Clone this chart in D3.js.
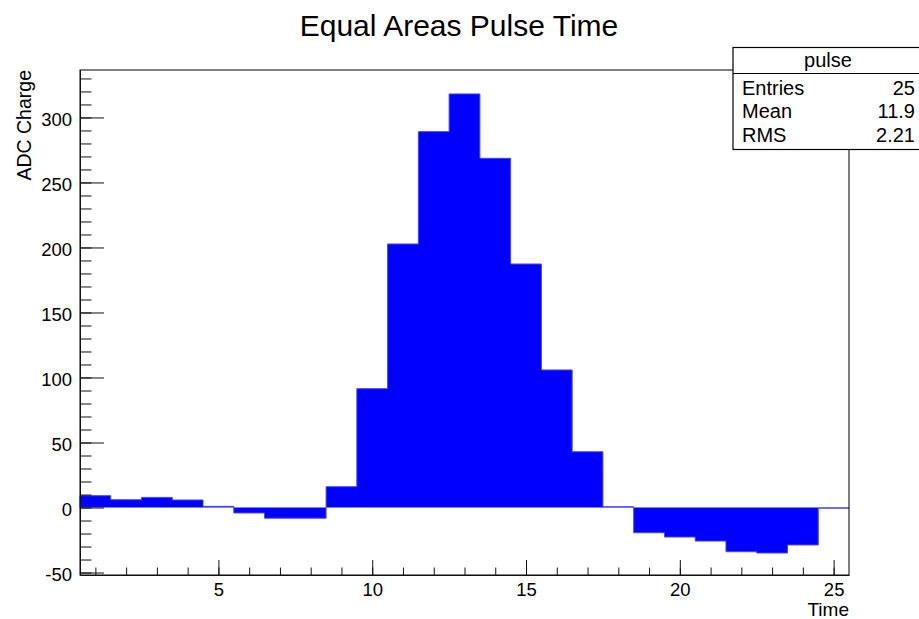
<!DOCTYPE html>
<html>
<head>
<meta charset="utf-8">
<script src="https://cdn.jsdelivr.net/npm/d3@7"></script>
<style>
  body { margin: 0; background: #fff; }
  text { font-family: "Liberation Sans", Arial, Helvetica, sans-serif; fill: #000; }
</style>
</head>
<body>
<svg id="chart" width="919" height="619"></svg>
<script>
// bin centres (Time) and bin contents (ADC Charge)
var times = [1, 2, 3, 4, 5, 6, 7, 8, 9, 10, 11, 12, 13, 14, 15, 16, 17, 18, 19, 20, 21, 22, 23, 24, 25];
var charge = [9.1, 6.0, 7.8, 5.8, 0.9, -4.2, -8.2, -8.2, 16.0, 91.4, 202.7, 289.1, 318.1,
              268.6, 187.3, 105.8, 42.9, 0.6, -19.4, -22.7, -25.8, -34.0, -35.0, -28.8, -0.5];
var yMajor = [-50, 0, 50, 100, 150, 200, 250, 300];
var xMajor = [5, 10, 15, 20, 25];
var statNames = ["Entries", "Mean", "RMS"];
var statValues = ["25", "11.9", "2.21"];

var svg = d3.select('#chart');
// frame edges (note: "top" is reserved on window, so use frame* names)
var frameL = 80, frameR = 849, frameT = 70, frameB = 575;

var x = d3.scaleLinear().domain([0.5, 25.5]).range([frameL, frameR]);
var y = d3.scaleLinear().domain([-51.9, 336.5]).range([frameB, frameT]);

// step points of the histogram
var pts = [[x(times[0] - 0.5), y(0)]];
charge.forEach(function (d, i) {
    pts.push([x(times[i] - 0.5), y(d)]);
    pts.push([x(times[i] + 0.5), y(d)]);
});
pts.push([x(times[times.length - 1] + 0.5), y(0)]);

// fill as one shape so no seams show between bins
svg.append('path')
    .attr('d', d3.area()
        .x(function (p) { return p[0]; })
        .y0(y(0))
        .y1(function (p) { return p[1]; })(pts))
    .style('fill', '#0000ff');

// outline
svg.append('path')
    .attr('d', d3.line()(pts))
    .style('fill', 'none')
    .style('stroke', '#4a4ae0')
    .style('stroke-width', 1);

// frame
svg.append('rect')
    .attr('x', frameL).attr('y', frameT)
    .attr('width', frameR - frameL).attr('height', frameB - frameT)
    .style('fill', 'none').style('stroke', '#000').style('stroke-width', 1);

var plain = function (d) { return String(d); }; // keep ascii hyphen for -50

// y axis: minor + major ticks pointing inwards
var yMinor = [];
for (var v = -50; v <= 330; v += 10) yMinor.push(v);
svg.append('g')
    .attr('transform', 'translate(' + frameL + ',0)')
    .call(d3.axisLeft(y).tickValues(yMinor).tickSize(-11.5).tickSizeOuter(0).tickFormat(''))
    .call(function (g) { g.select('.domain').remove(); });
var yAxis = svg.append('g')
    .attr('transform', 'translate(' + frameL + ',0)')
    .call(d3.axisLeft(y).tickValues(yMajor).tickSize(-24).tickSizeOuter(0).tickPadding(8).tickFormat(plain));
yAxis.selectAll('text').attr('dy', '0.45em').style('font-size', '18.5px');

// x axis
svg.append('g')
    .attr('transform', 'translate(0,' + frameB + ')')
    .call(d3.axisBottom(x).tickValues(times).tickSize(-7.5).tickSizeOuter(0).tickFormat(''))
    .call(function (g) { g.select('.domain').remove(); });
var xAxis = svg.append('g')
    .attr('transform', 'translate(0,' + frameB + ')')
    .call(d3.axisBottom(x).tickValues(xMajor).tickSize(-15).tickSizeOuter(0).tickPadding(8).tickFormat(plain));
xAxis.selectAll('text').style('font-size', '18.5px');

svg.selectAll('.tick line').style('stroke', '#111');
svg.selectAll('.domain').style('stroke', '#111');

// axis titles
svg.append('text')
    .attr('x', frameR).attr('y', 615.5)
    .attr('text-anchor', 'end')
    .style('font-size', '19px')
    .text('Time');
svg.append('text')
    .attr('transform', 'translate(31,' + frameT + ') rotate(-90)')
    .attr('text-anchor', 'end')
    .style('font-size', '19.5px')
    .text('ADC Charge');

// title
svg.append('text')
    .attr('x', 459).attr('y', 36)
    .attr('text-anchor', 'middle')
    .style('font-size', '30px')
    .text('Equal Areas Pulse Time');

// stats box
var box = svg.append('g');
box.append('rect')
    .attr('x', 733).attr('y', 47.5)
    .attr('width', 200).attr('height', 102)
    .style('fill', '#fff').style('stroke', '#000').style('stroke-width', 1.2);
box.append('line')
    .attr('x1', 733).attr('x2', 933).attr('y1', 73.5).attr('y2', 73.5)
    .style('stroke', '#000').style('stroke-width', 1.2);
box.append('text')
    .attr('x', 828).attr('y', 66.5)
    .attr('text-anchor', 'middle')
    .style('font-size', '20px')
    .text('pulse');
var rowY = [95, 117.5, 142];
statNames.forEach(function (n, i) {
    box.append('text')
        .attr('x', 742).attr('y', rowY[i])
        .style('font-size', '20px')
        .text(n);
    box.append('text')
        .attr('x', 915).attr('y', rowY[i])
        .attr('text-anchor', 'end')
        .style('font-size', '20px')
        .text(statValues[i]);
});
</script>
</body>
</html>
